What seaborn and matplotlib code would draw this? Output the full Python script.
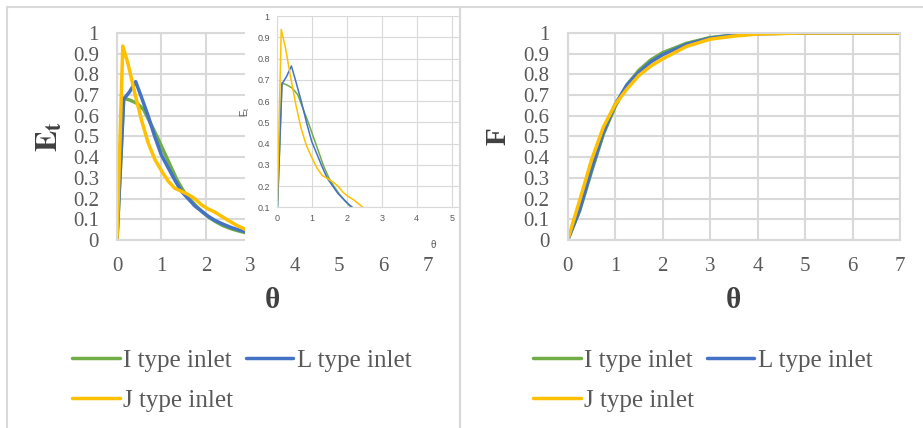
import matplotlib
matplotlib.use("Agg")
import matplotlib.pyplot as plt
import seaborn as sns
from matplotlib.patches import Rectangle
from matplotlib.ticker import MultipleLocator, FuncFormatter

# ---- residence time distribution E(theta) for the three inlet types ----
theta_E_I = [0, 0.15, 0.3, 0.45, 0.6, 0.75, 0.9, 1.05, 1.2, 1.35, 1.5, 1.65, 1.8,
             1.95, 2.1, 2.25, 2.4, 2.6, 2.8, 3.0, 3.5, 4.0, 5.0, 6.0, 7.0]
E_I = [0, 0.685, 0.675, 0.66, 0.63, 0.565, 0.5, 0.43, 0.36, 0.29, 0.235, 0.195, 0.16,
       0.13, 0.105, 0.085, 0.068, 0.052, 0.04, 0.03, 0.015, 0.007, 0.002, 0.0005, 0]

theta_E_L = [0, 0.15, 0.28, 0.42, 0.55, 0.7, 0.85, 1.0, 1.15, 1.3, 1.45, 1.6, 1.75,
             1.9, 2.05, 2.2, 2.4, 2.6, 2.8, 3.0, 3.5, 4.0, 5.0, 6.0, 7.0]
E_L = [0, 0.68, 0.715, 0.765, 0.69, 0.6, 0.5, 0.41, 0.35, 0.29, 0.235, 0.2, 0.165,
       0.14, 0.115, 0.095, 0.075, 0.058, 0.045, 0.035, 0.018, 0.008, 0.002, 0.0005, 0]

theta_E_J = [0, 0.13, 0.25, 0.4, 0.55, 0.7, 0.85, 1.0, 1.15, 1.3, 1.45, 1.6, 1.75,
             1.9, 2.05, 2.2, 2.35, 2.5, 2.7, 2.9, 3.2, 3.6, 4.0, 5.0, 6.0, 7.0]
E_J = [0, 0.937, 0.85, 0.71, 0.58, 0.47, 0.39, 0.335, 0.285, 0.25, 0.235, 0.22, 0.2,
       0.17, 0.15, 0.135, 0.115, 0.095, 0.07, 0.05, 0.03, 0.015, 0.008, 0.002, 0.0005, 0]

# ---- cumulative distribution F(theta) ----
theta_F = [0, 0.25, 0.5, 0.75, 1.0, 1.25, 1.5, 1.75, 2.0, 2.5, 3.0, 3.5, 4.0, 5.0, 6.0, 7.0]
F_I = [0, 0.14, 0.33, 0.51, 0.645, 0.75, 0.82, 0.87, 0.905, 0.95, 0.978, 0.99, 0.997, 1, 1, 1]
F_L = [0, 0.145, 0.34, 0.52, 0.655, 0.75, 0.81, 0.86, 0.895, 0.945, 0.975, 0.99, 0.997, 1, 1, 1]
F_J = [0, 0.19, 0.385, 0.545, 0.655, 0.73, 0.795, 0.84, 0.875, 0.935, 0.97, 0.985, 0.995, 1, 1, 1]

series_names = ["I type inlet", "L type inlet", "J type inlet"]
series_colors = ["#70AD47", "#4472C4", "#FFC000"]

sns.set_style("white")
plt.rcParams["font.family"] = ["Liberation Serif", "DejaVu Serif"]
plt.rcParams["mathtext.fontset"] = "stix"

W, H = 923, 428
fig = plt.figure(figsize=(W / 100, H / 100), dpi=100)


def px_box(x0, y0, x1, y1):
    """Pixel box (top-left origin) -> figure-fraction rect."""
    return [x0 / W, 1 - y1 / H, (x1 - x0) / W, (y1 - y0) / H]


GRID = "#D9D9D9"
TXT = "#595959"
LBL = "#404040"

ax_e = fig.add_axes(px_box(117, 33, 428, 240), zorder=1)
ax_f = fig.add_axes(px_box(567.7, 33, 900, 240), zorder=1)

fmt = FuncFormatter(lambda v, p: f"{v:g}")
for ax in (ax_e, ax_f):
    ax.set_xlim(0, 7)
    ax.set_ylim(0, 1)
    ax.xaxis.set_major_locator(MultipleLocator(1))
    ax.yaxis.set_major_locator(MultipleLocator(0.1))
    ax.xaxis.set_major_formatter(fmt)
    ax.yaxis.set_major_formatter(fmt)
    ax.set_axisbelow(True)
    ax.grid(True, color=GRID, lw=1.5)
    for s in ax.spines.values():
        s.set_color(GRID)
        s.set_linewidth(1.5)
    ax.tick_params(length=0, labelsize=15, labelcolor=TXT)
    ax.tick_params(axis="y", pad=13)
    ax.tick_params(axis="x", pad=12)

e_sets = [(theta_E_I, E_I), (theta_E_L, E_L), (theta_E_J, E_J)]
f_sets = [(theta_F, F_I), (theta_F, F_L), (theta_F, F_J)]

for (tx, ty), name, col in zip(e_sets, series_names, series_colors):
    sns.lineplot(x=tx, y=ty, ax=ax_e, color=col, lw=2.5, label=name,
                 estimator=None, sort=False)
for (tx, ty), name, col in zip(f_sets, series_names, series_colors):
    sns.lineplot(x=tx, y=ty, ax=ax_f, color=col, lw=2.5, label=name,
                 estimator=None, sort=False)

ax_e.set_ylabel(r"$\mathbf{E}_{\mathbf{t}}$", fontsize=23, color=LBL)
ax_f.set_ylabel("F", fontsize=21, color=LBL, fontweight="bold")
for ax in (ax_e, ax_f):
    ax.set_xlabel("θ", fontsize=21, color=LBL, fontweight="bold")
    ax.xaxis.set_label_coords(0.5, -0.225)
ax_e.yaxis.set_label_coords(-0.167, 0.5)
ax_f.yaxis.set_label_coords(-0.168, 0.5)

# legends below each chart, entries ordered so the rows read I, L / J
for ax, x0 in ((ax_e, 72), (ax_f, 533)):
    h, l = ax.get_legend_handles_labels()
    order = [0, 2, 1]
    ax.legend([h[i] for i in order], [l[i] for i in order], ncol=2,
              loc="upper left", bbox_to_anchor=(x0 / W, 1 - 349 / H),
              bbox_transform=fig.transFigure, frameon=False, fontsize=18,
              handlelength=1.9, handletextpad=0.15, columnspacing=0.5,
              borderpad=0, borderaxespad=0, labelspacing=0.7,
              labelcolor=TXT)

# white panel holding the zoomed E(theta) view
fig.add_artist(Rectangle((245 / W, 1 - 250 / H), 214 / W, 243 / H,
                         transform=fig.transFigure, facecolor="white",
                         edgecolor="none", zorder=1.5))

ax_in = fig.add_axes(px_box(276.7, 16, 458.7, 207.3), zorder=2)
for (tx, ty), col in zip(e_sets, series_colors):
    sns.lineplot(x=tx, y=ty, ax=ax_in, color=col, lw=1.1,
                 estimator=None, sort=False, legend=False)
ax_in.set_xlim(0, 5.2)
ax_in.set_ylim(0.1, 1)
ax_in.xaxis.set_major_locator(MultipleLocator(1))
ax_in.yaxis.set_major_locator(MultipleLocator(0.1))
ax_in.xaxis.set_major_formatter(fmt)
ax_in.yaxis.set_major_formatter(fmt)
ax_in.set_axisbelow(True)
ax_in.grid(True, color=GRID, lw=0.8)
for s in ax_in.spines.values():
    s.set_color(GRID)
    s.set_linewidth(0.8)
ax_in.spines["right"].set_visible(False)
ax_in.spines["top"].set_visible(False)
ax_in.tick_params(length=0, labelsize=6.5, labelcolor=TXT, pad=5)
for lab in ax_in.get_xticklabels() + ax_in.get_yticklabels():
    lab.set_family("Liberation Sans")
ax_in.set_ylabel(r"$\mathregular{E_t}$", fontsize=7, color=TXT, family="Liberation Sans")
ax_in.set_xlabel("θ", fontsize=7, color=TXT, family="Liberation Sans")
ax_in.yaxis.set_label_coords(-0.136, 0.5)
ax_in.xaxis.set_label_coords(0.86, -0.17)

# chart-area borders
for (x0, x1) in ((7, 460), (460, 940)):
    fig.add_artist(Rectangle((x0 / W, -0.05), (x1 - x0) / W, 1.05 - 7 / H,
                             transform=fig.transFigure, facecolor="none",
                             edgecolor=GRID, lw=1.5, zorder=5))

fig.savefig("out.png", dpi=100)
